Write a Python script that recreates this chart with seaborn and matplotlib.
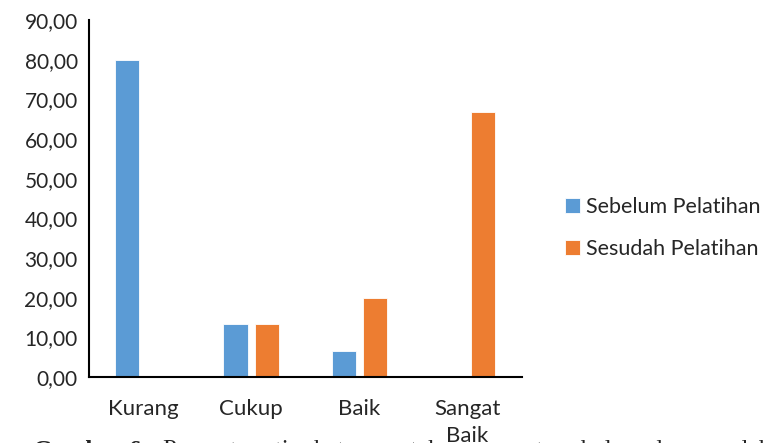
import pandas as pd
import matplotlib.pyplot as plt
import seaborn as sns

# Data
categories = ['Kurang', 'Cukup', 'Baik', 'Sangat\nBaik']
sebelum = [80.00, 13.33, 6.67, 0.00]
sesudah = [0.00, 13.33, 20.00, 66.67]
series_names = ['Sebelum Pelatihan', 'Sesudah Pelatihan']
colors = ['#5B9BD5', '#ED7D31']
y_ticks = [0, 10, 20, 30, 40, 50, 60, 70, 80, 90]

sns.set_theme(style="white")
plt.rcParams['font.family'] = ['Lato', 'DejaVu Sans']

df = pd.DataFrame({
    'kategori': categories * 2,
    'nilai': sebelum + sesudah,
    'kelompok': [series_names[0]] * 4 + [series_names[1]] * 4,
})

fig = plt.figure(figsize=(7.66, 4.43), dpi=100)
ax = fig.add_axes([0.116, 0.149, 0.565, 0.806])

sns.barplot(data=df, x='kategori', y='nilai', hue='kelompok',
            palette=colors, saturation=1, width=0.58, gap=0.23, ax=ax,
            edgecolor='white', linewidth=0.6, legend=True)

ax.set_ylim(0, 90)
ax.set_xlim(-0.5, 3.5)
ax.set_yticks(y_ticks)
ax.set_yticklabels([f'{v:.2f}'.replace('.', ',') for v in y_ticks], fontsize=15)
ax.tick_params(axis='x', labelsize=16, length=0, pad=16)
ax.tick_params(axis='y', length=0, pad=8)
for lbl in ax.get_xticklabels():
    lbl.set_linespacing(1.45)
ax.set_xlabel('')
ax.set_ylabel('')

for side in ['top', 'right']:
    ax.spines[side].set_visible(False)
for side in ['left', 'bottom']:
    ax.spines[side].set_color('black')
    ax.spines[side].set_linewidth(1.5)

ax.legend(loc='center left', bbox_to_anchor=(0.712, 0.485),
          bbox_transform=fig.transFigure, frameon=False, fontsize=15.5,
          handlelength=0.7, handleheight=0.7, handletextpad=0.3,
          labelspacing=1.05)

# caption cut off at the bottom edge, as in the source
fig.text(33 / 766, 1 - 440 / 443, 'Gambar 6.', fontsize=18, fontweight='bold',
         family='Liberation Serif', va='top', zorder=0)
fig.text(163 / 766, 1 - 440 / 443,
         'Persentase tingkat pengetahuan peserta sebelum dan sesudah pelatihan',
         fontsize=18, family='Liberation Serif', va='top', zorder=0)

fig.savefig('out.png', dpi=100)
